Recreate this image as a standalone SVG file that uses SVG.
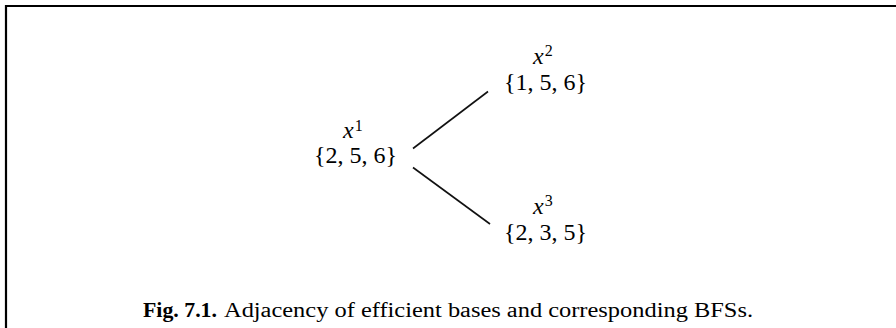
<svg xmlns="http://www.w3.org/2000/svg" width="896" height="328" viewBox="0 0 896 328">
<style>
.frame{fill:none;stroke:#000;stroke-width:2.2}
.edge{stroke:#111;stroke-width:1.6;fill:none}
.set{font-family:"Liberation Serif",serif;font-size:24px;fill:#000;text-anchor:middle}
.var{font-family:"Liberation Serif",serif;font-style:italic;font-size:24px;fill:#000}
.sup{font-style:normal;font-size:16px}
.cap{font-family:"Liberation Serif",serif;font-size:20px;fill:#000}
.bold{font-weight:bold}
</style>
<rect width="896" height="328" fill="#fff"/>
<path class="frame" d="M6,328 V6 H896"/>
<g id="connectors">
<line class="edge" x1="413" y1="148.5" x2="488" y2="91.5"/>
<line class="edge" x1="413" y1="167.5" x2="490" y2="224"/>
</g>
<g id="node-x1">
<text class="var" x="343" y="138">x<tspan class="sup" dx="1" dy="-7">1</tspan></text>
<text class="set" x="355.5" y="163">{2, 5, 6}</text>
</g>
<g id="node-x2">
<text class="var" x="533" y="64">x<tspan class="sup" dx="1" dy="-8">2</tspan></text>
<text class="set" x="545.5" y="90">{1, 5, 6}</text>
</g>
<g id="node-x3">
<text class="var" x="533" y="214">x<tspan class="sup" dx="1" dy="-8">3</tspan></text>
<text class="set" x="545.5" y="240">{2, 3, 5}</text>
</g>
<g id="caption">
<text class="cap bold" x="143" y="317" textLength="74" lengthAdjust="spacingAndGlyphs">Fig. 7.1.</text>
<text class="cap" x="224" y="317" textLength="529" lengthAdjust="spacingAndGlyphs">Adjacency of efficient bases and corresponding BFSs.</text>
</g>
</svg>
